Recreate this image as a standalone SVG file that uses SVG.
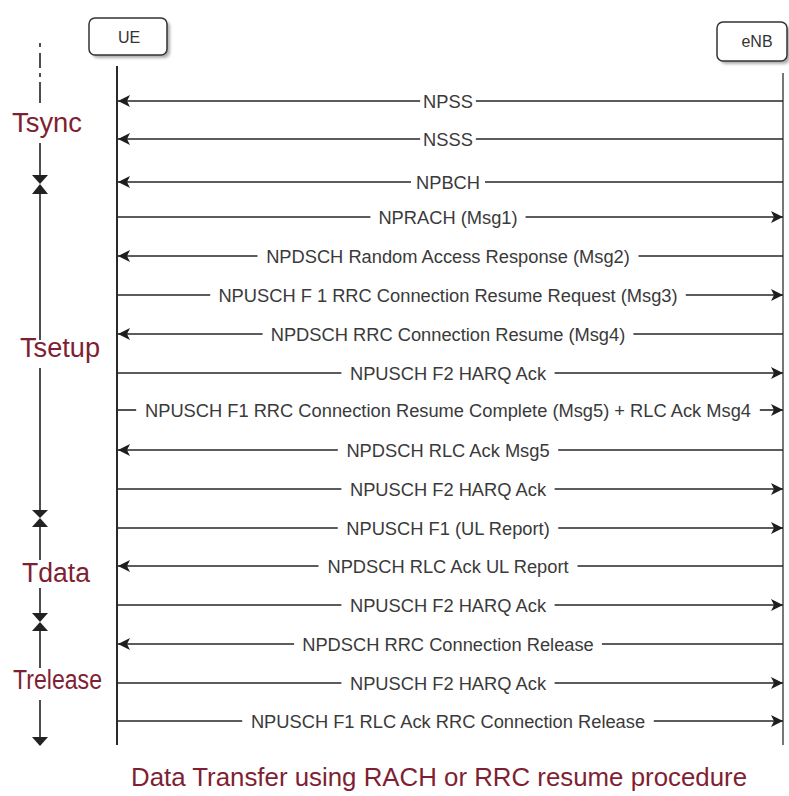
<svg xmlns="http://www.w3.org/2000/svg" width="789" height="796" viewBox="0 0 789 796">
<style>
.box{fill:#ffffff;stroke:#333;stroke-width:1.5}
.shadow{fill:#777;opacity:0.6}
.node{font-family:"Liberation Sans",Arial,sans-serif;font-size:16px;fill:#333;text-anchor:middle}
.msg{stroke:#262626;stroke-width:1.6;fill:none}
.lbl{font-family:"Liberation Sans",Arial,sans-serif;font-size:18.3px;fill:#3a3a3a;text-anchor:middle}
.phase{font-family:"Liberation Sans",Arial,sans-serif;font-size:27px;fill:#7f1f33}
.tl{stroke:#222;stroke-width:1.6;fill:none}
.tri{fill:#222}
</style>
<defs>
<filter id="blur" x="-20%" y="-20%" width="140%" height="140%"><feGaussianBlur stdDeviation="1.5"/></filter>
<marker id="ah" markerUnits="userSpaceOnUse" markerWidth="13" markerHeight="13" refX="12" refY="6" orient="auto">
<path d="M0,0 L12,6 L0,12 L3,6 z" fill="#1e1e1e"/>
</marker>
</defs>
<rect width="789" height="796" fill="#ffffff"/>

<g id="ue">
<rect class="shadow" x="92" y="21" width="78" height="37" rx="6" filter="url(#blur)"/>
<rect class="box" x="89" y="18" width="78" height="37" rx="6"/>
<text class="node" x="129" y="43">UE</text>
<line x1="117" y1="66" x2="117" y2="745" stroke="#2a2a2a" stroke-width="2"/>
</g>
<g id="enb">
<rect class="shadow" x="720" y="25" width="70" height="39" rx="6" filter="url(#blur)"/>
<rect class="box" x="717" y="22" width="70" height="39" rx="6"/>
<text class="node" x="757" y="47">eNB</text>
<line x1="783" y1="73" x2="783" y2="745" stroke="#777" stroke-width="2"/>
</g>

<g id="connectors">
<line class="msg" x1="783" y1="101" x2="475.9" y2="101"/><line class="msg" x1="420.1" y1="101" x2="118" y2="101" marker-end="url(#ah)"/>
<line class="msg" x1="783" y1="139" x2="475.9" y2="139"/><line class="msg" x1="420.1" y1="139" x2="118" y2="139" marker-end="url(#ah)"/>
<line class="msg" x1="783" y1="182" x2="485" y2="182"/><line class="msg" x1="411" y1="182" x2="118" y2="182" marker-end="url(#ah)"/>
<line class="msg" x1="117" y1="217" x2="370.4" y2="217"/><line class="msg" x1="525.6" y1="217" x2="783" y2="217" marker-end="url(#ah)"/>
<line class="msg" x1="783" y1="256" x2="638.5" y2="256"/><line class="msg" x1="257.5" y1="256" x2="118" y2="256" marker-end="url(#ah)"/>
<line class="msg" x1="117" y1="295" x2="210.2" y2="295"/><line class="msg" x1="685.8" y1="295" x2="783" y2="295" marker-end="url(#ah)"/>
<line class="msg" x1="783" y1="334" x2="633.4" y2="334"/><line class="msg" x1="262.6" y1="334" x2="118" y2="334" marker-end="url(#ah)"/>
<line class="msg" x1="117" y1="373" x2="341.4" y2="373"/><line class="msg" x1="554.6" y1="373" x2="783" y2="373" marker-end="url(#ah)"/>
<line class="msg" x1="117" y1="410" x2="136.2" y2="410"/><line class="msg" x1="759.8" y1="410" x2="783" y2="410" marker-end="url(#ah)"/>
<line class="msg" x1="783" y1="450" x2="558.2" y2="450"/><line class="msg" x1="337.8" y1="450" x2="118" y2="450" marker-end="url(#ah)"/>
<line class="msg" x1="117" y1="489" x2="341.4" y2="489"/><line class="msg" x1="554.6" y1="489" x2="783" y2="489" marker-end="url(#ah)"/>
<line class="msg" x1="117" y1="528" x2="337.8" y2="528"/><line class="msg" x1="558.2" y1="528" x2="783" y2="528" marker-end="url(#ah)"/>
<line class="msg" x1="783" y1="566" x2="577.5" y2="566"/><line class="msg" x1="318.5" y1="566" x2="118" y2="566" marker-end="url(#ah)"/>
<line class="msg" x1="117" y1="605" x2="341.4" y2="605"/><line class="msg" x1="554.6" y1="605" x2="783" y2="605" marker-end="url(#ah)"/>
<line class="msg" x1="783" y1="644" x2="601.9" y2="644"/><line class="msg" x1="294.1" y1="644" x2="118" y2="644" marker-end="url(#ah)"/>
<line class="msg" x1="117" y1="683" x2="341.4" y2="683"/><line class="msg" x1="554.6" y1="683" x2="783" y2="683" marker-end="url(#ah)"/>
<line class="msg" x1="117" y1="721" x2="242.2" y2="721"/><line class="msg" x1="653.8" y1="721" x2="783" y2="721" marker-end="url(#ah)"/>
</g>

<g id="labels">
<text class="lbl" x="448" y="108">NPSS</text>
<text class="lbl" x="448" y="146">NSSS</text>
<text class="lbl" x="448" y="189">NPBCH</text>
<text class="lbl" x="448" y="224">NPRACH (Msg1)</text>
<text class="lbl" x="448" y="263">NPDSCH Random Access Response (Msg2)</text>
<text class="lbl" x="448" y="302">NPUSCH F 1 RRC Connection Resume Request (Msg3)</text>
<text class="lbl" x="448" y="341">NPDSCH RRC Connection Resume (Msg4)</text>
<text class="lbl" x="448" y="380">NPUSCH F2 HARQ Ack</text>
<text class="lbl" x="448" y="417">NPUSCH F1 RRC Connection Resume Complete (Msg5) + RLC Ack Msg4</text>
<text class="lbl" x="448" y="457">NPDSCH RLC Ack Msg5</text>
<text class="lbl" x="448" y="496">NPUSCH F2 HARQ Ack</text>
<text class="lbl" x="448" y="535">NPUSCH F1 (UL Report)</text>
<text class="lbl" x="448" y="573">NPDSCH RLC Ack UL Report</text>
<text class="lbl" x="448" y="612">NPUSCH F2 HARQ Ack</text>
<text class="lbl" x="448" y="651">NPDSCH RRC Connection Release</text>
<text class="lbl" x="448" y="690">NPUSCH F2 HARQ Ack</text>
<text class="lbl" x="448" y="728">NPUSCH F1 RLC Ack RRC Connection Release</text>
</g>

<g id="timeline">
<line class="tl" x1="40" y1="43" x2="40" y2="103" stroke-dasharray="4 6 15 5 4 5 21"/>
<text class="phase" x="12" y="132" textLength="70" lengthAdjust="spacingAndGlyphs">Tsync</text>
<line class="tl" x1="40" y1="143" x2="40" y2="176"/>
<polygon class="tri" points="32,175 48,175 40,184"/>
<polygon class="tri" points="32,194 48,194 40,184"/>
<line class="tl" x1="40" y1="193" x2="40" y2="340"/>
<text class="phase" x="20" y="357" textLength="80" lengthAdjust="spacingAndGlyphs">Tsetup</text>
<line class="tl" x1="40" y1="368" x2="40" y2="511"/>
<polygon class="tri" points="32,510 48,510 40,518"/>
<polygon class="tri" points="32,527 48,527 40,518"/>
<line class="tl" x1="40" y1="526" x2="40" y2="560"/>
<text class="phase" x="22" y="582" textLength="68" lengthAdjust="spacingAndGlyphs">Tdata</text>
<line class="tl" x1="40" y1="588" x2="40" y2="614"/>
<polygon class="tri" points="32,613 48,613 40,622"/>
<polygon class="tri" points="32,631 48,631 40,622"/>
<line class="tl" x1="40" y1="630" x2="40" y2="668"/>
<text class="phase" x="13" y="689" textLength="89" lengthAdjust="spacingAndGlyphs">Trelease</text>
<line class="tl" x1="40" y1="700" x2="40" y2="738"/>
<polygon class="tri" points="32,737 48,737 40,746"/>
</g>

<text x="131" y="786" font-family="Liberation Sans, Arial, sans-serif" font-size="25" fill="#7f1f33" textLength="616" lengthAdjust="spacingAndGlyphs">Data Transfer using RACH or RRC resume procedure</text>
</svg>
